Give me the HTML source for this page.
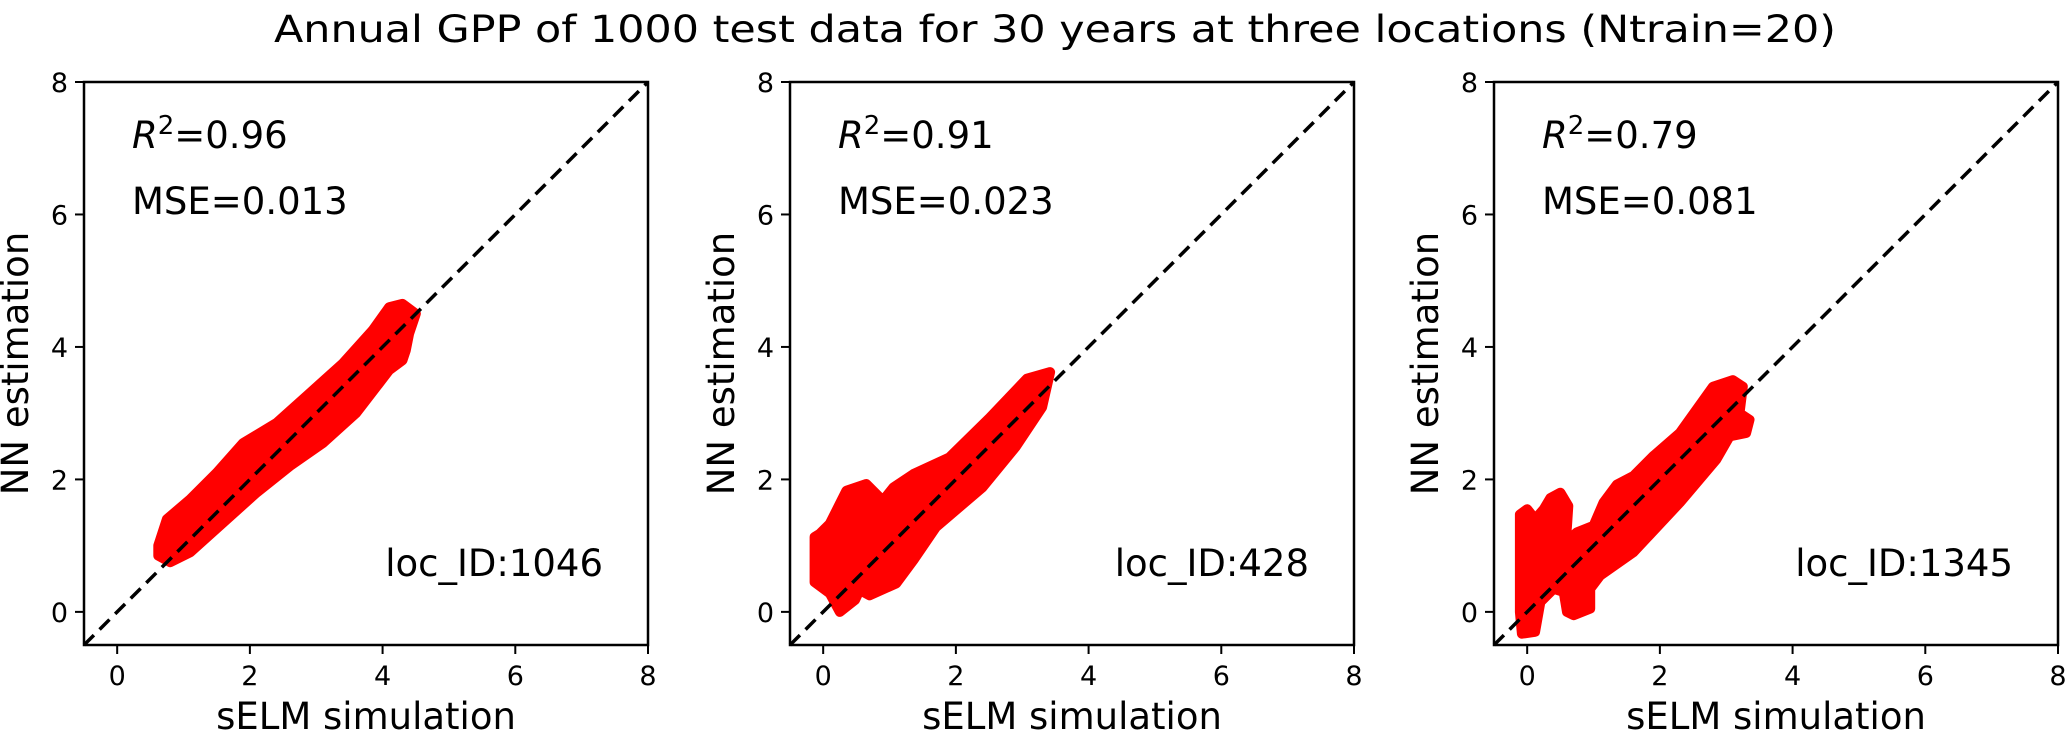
<!DOCTYPE html>
<html><head><meta charset="utf-8"><style>
html,body{margin:0;padding:0;background:#fff;}
svg{display:block;font-family:"DejaVu Sans","Liberation Sans",sans-serif;}
</style></head><body>
<svg id="fig" width="2067" height="732" viewBox="0 0 2067 732" xmlns="http://www.w3.org/2000/svg">
<rect width="2067" height="732" fill="#fff"/>
<text x="1055" y="42" font-size="37" text-anchor="middle" textLength="1562" lengthAdjust="spacingAndGlyphs">Annual GPP of 1000 test data for 30 years at three locations (Ntrain=20)</text>
</svg>
<script>
const ticks = [0, 2, 4, 6, 8];
const tickLabels = ["0", "2", "4", "6", "8"];
const panelIds = ["1046", "428", "1345"];
const r2Values = ["0.96", "0.91", "0.79"];
const mseValues = ["0.013", "0.023", "0.081"];
// scatter cloud outlines (data units): sim x, est y
const cloud1X = [0.62,0.75,1.1,1.5,1.9,2.4,2.9,3.4,3.85,4.1,4.3,4.5,4.4,4.35,4.3,4.1,3.6,3.1,2.6,2.1,1.6,1.1,0.8,0.62];
const cloud1Y = [1.0,1.4,1.7,2.1,2.55,2.85,3.3,3.75,4.25,4.6,4.65,4.5,4.2,3.95,3.8,3.65,3.0,2.55,2.2,1.8,1.35,0.9,0.75,0.85];
const cloud2X = [-0.13,-0.13,0.1,0.25,0.48,0.55,0.7,1.1,1.36,1.7,2.4,2.9,3.3,3.42,3.07,2.51,1.9,1.36,1.06,0.9,0.65,0.35,0.25,0.1,-0.05];
const cloud2Y = [1.13,0.45,0.28,0.0,0.18,0.33,0.25,0.43,0.78,1.28,1.88,2.49,3.09,3.62,3.52,2.93,2.33,2.08,1.88,1.68,1.93,1.83,1.63,1.33,1.18];
const cloud3X = [-0.11,0.0,0.12,0.25,0.35,0.5,0.62,0.6,0.58,0.75,1.0,1.15,1.35,1.6,1.9,2.3,2.8,3.1,3.25,3.2,3.35,3.3,3.05,2.85,2.3,1.6,1.1,0.95,0.95,0.7,0.6,0.55,0.4,0.2,0.12,-0.08,-0.11];
const cloud3Y = [1.47,1.55,1.4,1.55,1.72,1.8,1.6,1.3,1.05,1.2,1.3,1.65,1.92,2.05,2.35,2.7,3.4,3.5,3.4,3.0,2.9,2.7,2.65,2.3,1.65,0.9,0.55,0.35,0.05,-0.05,0.0,0.3,0.35,0.15,-0.3,-0.33,0.0];
const cloudsX = [cloud1X, cloud2X, cloud3X];
const cloudsY = [cloud1Y, cloud2Y, cloud3Y];
const axMin = -0.5, axMax = 8;

const NS = "http://www.w3.org/2000/svg";
const svg = document.getElementById("fig");
function mk(tag, attrs, parent) {
  const e = document.createElementNS(NS, tag);
  for (const k in attrs) e.setAttribute(k, attrs[k]);
  (parent || svg).appendChild(e);
  return e;
}
const lefts = [84, 790, 1494];
const top0 = 82, bottom0 = 645, W = 564;
lefts.forEach((L, p) => {
  const R = L + W;
  const sx = v => L + (v - axMin) / (axMax - axMin) * W;
  const sy = v => bottom0 - (v - axMin) / (axMax - axMin) * (bottom0 - top0);
  const g = mk("g", {});
  
  
  const pts = cloudsX[p].map((x, i) => sx(x).toFixed(1) + "," + sy(cloudsY[p][i]).toFixed(1)).join(" ");
  const poly = mk("polygon", {points: pts, fill: "#ff0000", stroke: "#ff0000", "stroke-width": 10, "stroke-linejoin": "round"}, g);
  
  
  const d = mk("line", {x1: sx(axMin), y1: sy(axMin), x2: sx(axMax), y2: sy(axMax), stroke: "#000", "stroke-width": 3.5, "stroke-dasharray": "14,8"}, g);
  
  
  const f = mk("rect", {x: L, y: top0, width: W, height: bottom0 - top0, fill: "none", stroke: "#000", "stroke-width": 2.5}, g);
  
  
  ticks.forEach((t, i) => {
    mk("line", {x1: sx(t), y1: bottom0, x2: sx(t), y2: bottom0 + 9, stroke: "#000", "stroke-width": 2}, g);
    const xt = mk("text", {x: sx(t), y: 685, "font-size": 27, "text-anchor": "middle"}, g);
    xt.textContent = tickLabels[i];
    
    
    mk("line", {x1: L, y1: sy(t), x2: L - 9, y2: sy(t), stroke: "#000", "stroke-width": 2}, g);
    const yt = mk("text", {x: L - 16, y: sy(t) + 10, "font-size": 27, "text-anchor": "end"}, g);
    yt.textContent = tickLabels[i];
    
    
  });
  const xl = mk("text", {x: (L + R) / 2, y: 729, "font-size": 37, "text-anchor": "middle"}, g);
  xl.textContent = "sELM simulation";
  
  
  const cy = (top0 + bottom0) / 2;
  const yl = mk("text", {x: L - 56, y: cy, "font-size": 37, "text-anchor": "middle", transform: "rotate(-90 " + (L - 56) + " " + cy + ")"}, g);
  yl.textContent = "NN estimation";
  
  
  const r2 = mk("text", {x: L + 48, y: 148, "font-size": 37}, g);
  r2.innerHTML = '<tspan font-style="italic">R</tspan><tspan dy="-14" font-size="26">2</tspan><tspan dy="14">=' + r2Values[p] + '</tspan>';
  
  
  const ms = mk("text", {x: L + 48, y: 214, "font-size": 37}, g);
  ms.textContent = "MSE=" + mseValues[p];
  
  
  const lc = mk("text", {x: R - 45, y: 576, "font-size": 37, "text-anchor": "end"}, g);
  lc.textContent = "loc_ID:" + panelIds[p];
  
  
});
</script>
</body></html>
